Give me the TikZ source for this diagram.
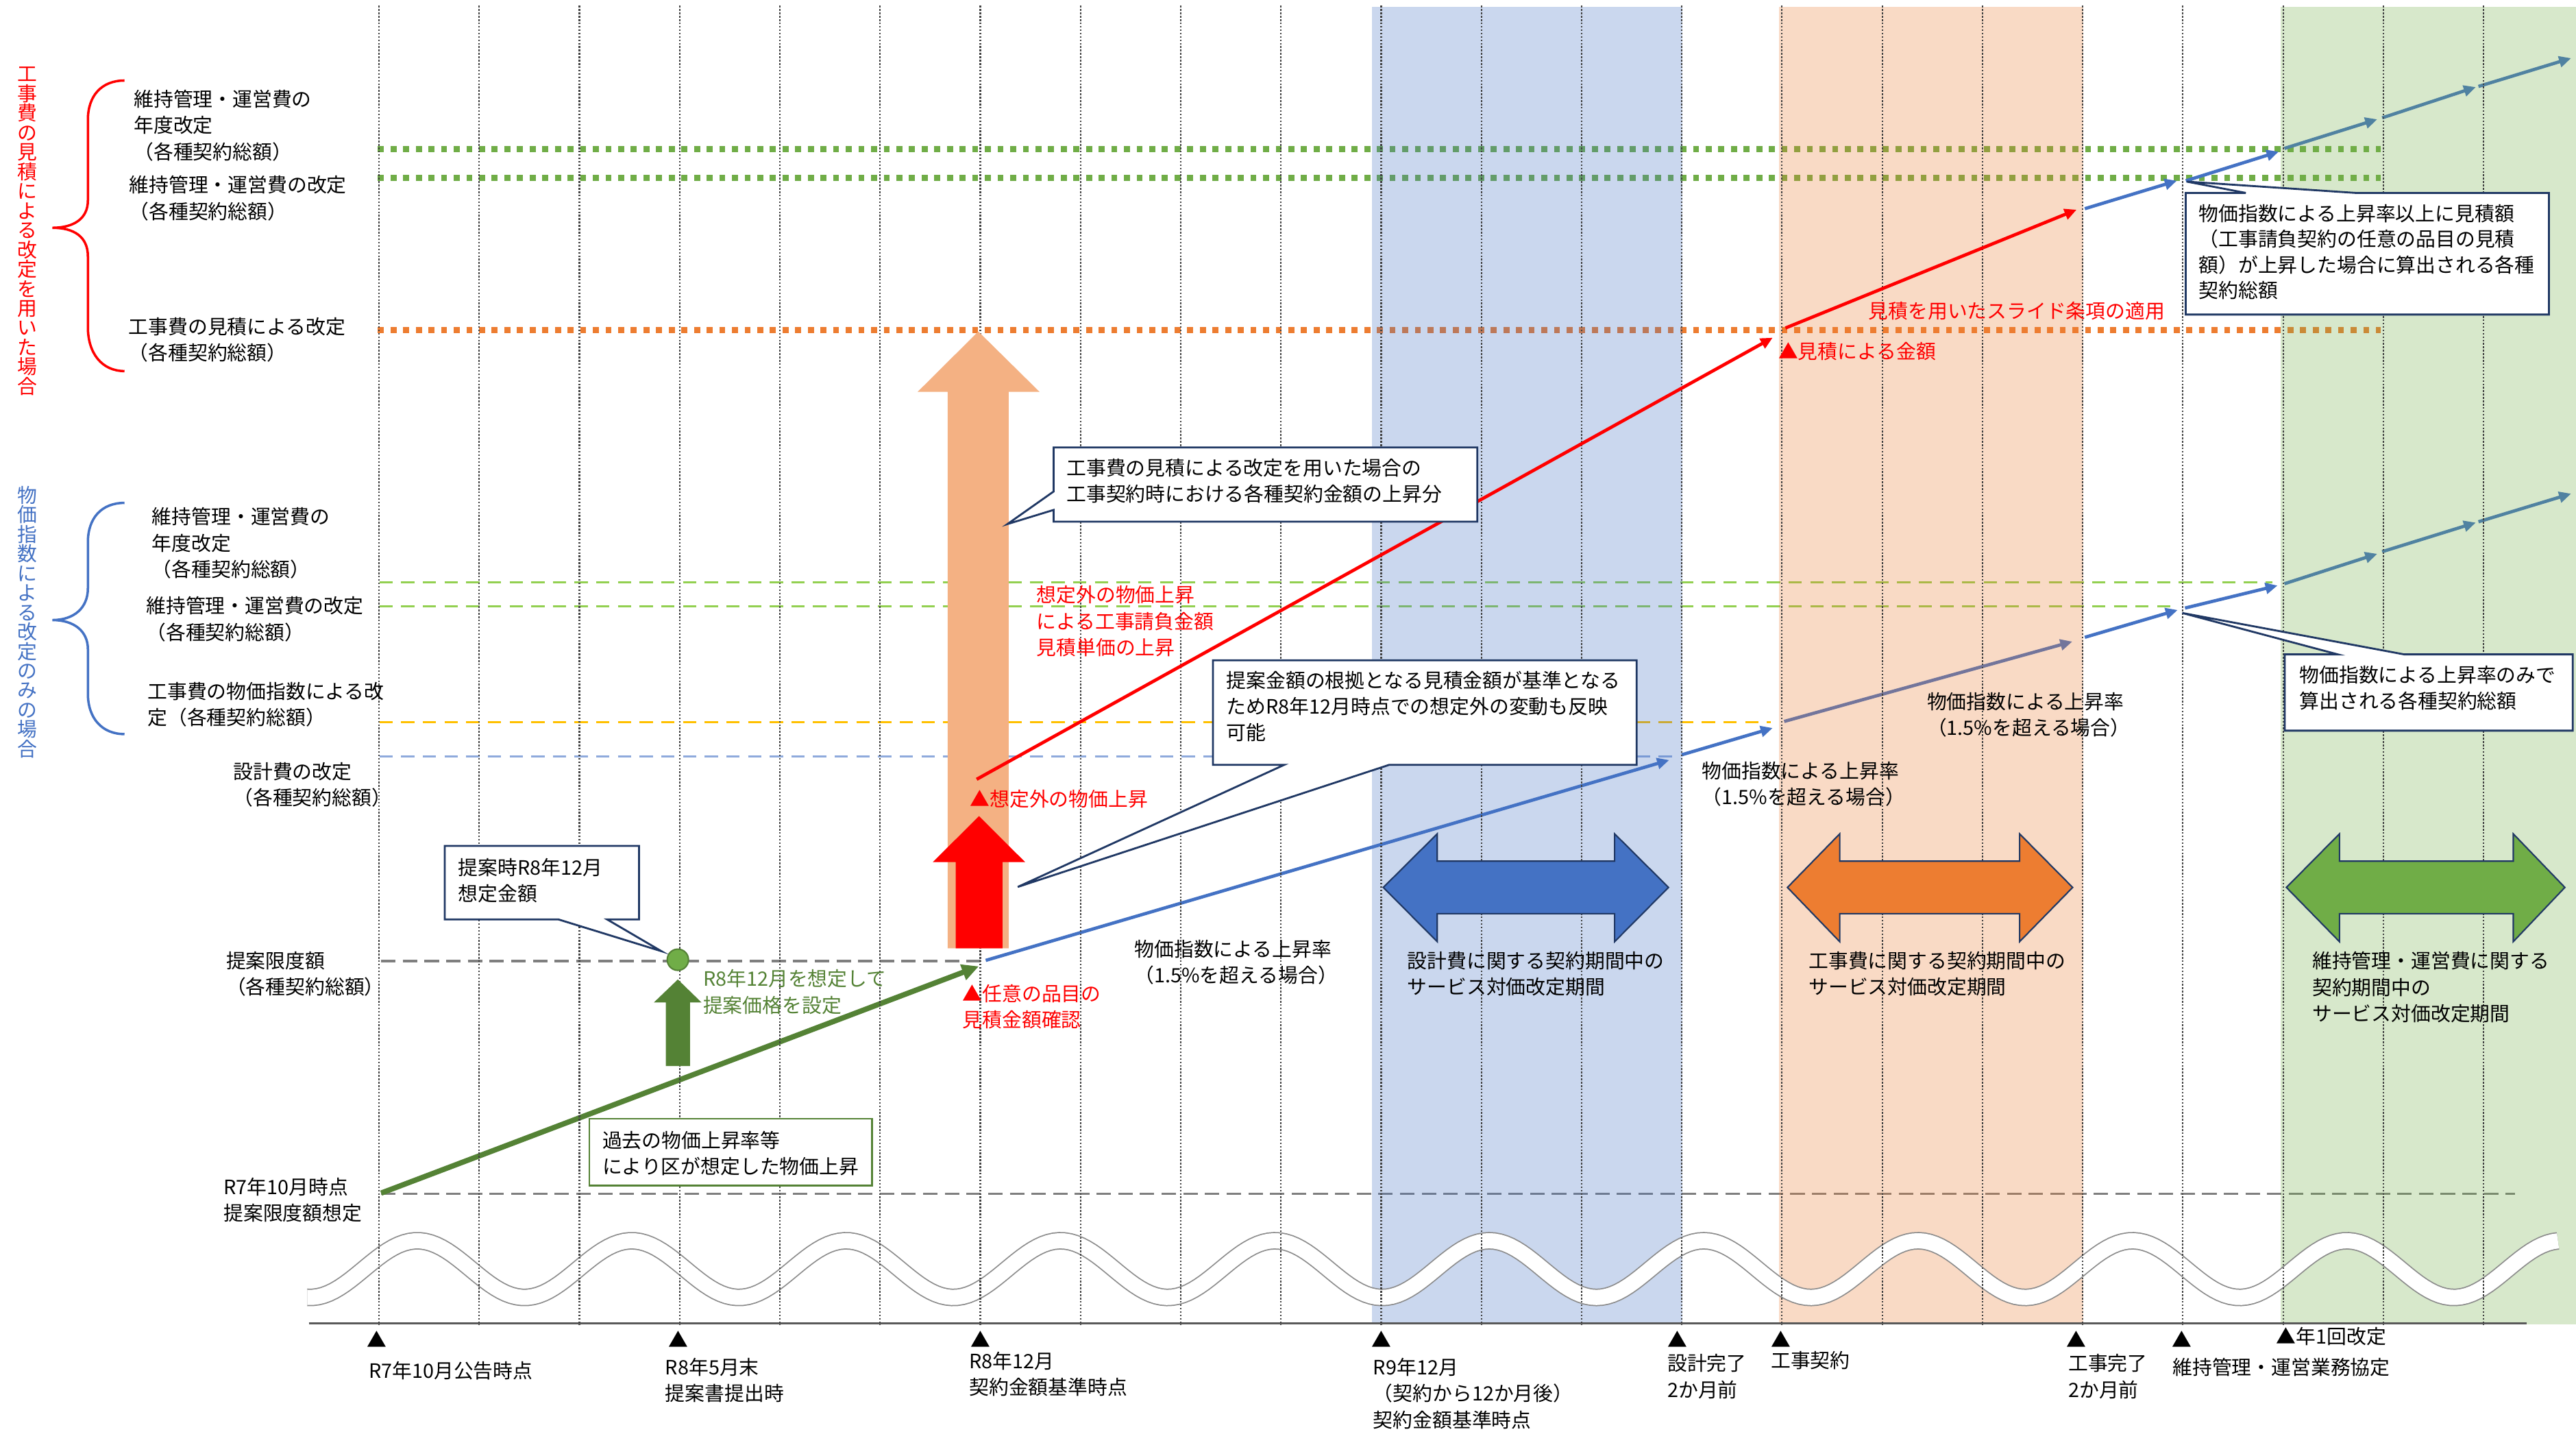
\documentclass[tikz,border=0pt]{standalone}
\usepackage{fontspec}
\setmainfont{Noto Sans CJK JP}
\usetikzlibrary{arrows.meta}
\definecolor{cnavy}{HTML}{203864}
\definecolor{cblue}{HTML}{4472C4}
\definecolor{cgreen}{HTML}{70AD47}
\definecolor{cdkgreen}{HTML}{548235}
\definecolor{corange}{HTML}{ED7D31}
\definecolor{clorange}{HTML}{F4B183}
\definecolor{cgold}{HTML}{FFC000}
\definecolor{cltblue}{HTML}{8FAADC}
\definecolor{cltgreen}{HTML}{92D050}
\definecolor{cgray}{HTML}{7F7F7F}
\definecolor{cred}{HTML}{FF0000}
\definecolor{cgrid}{HTML}{404040}
\newcommand\myfs{\fontsize{8.2}{10.9}\selectfont}
\newcommand\vstk[1]{\vbox{\baselineskip=8.1pt\lineskiplimit=-20pt\lineskip=0pt\vstkloop#1\relax}}
\def\vstkloop#1{\ifx\relax#1\else\hbox{#1}\expandafter\vstkloop\fi}
\begin{document}
\begin{tikzpicture}[x=0.02397cm, y=-0.02397cm,
  every node/.style={inner sep=0pt, outer sep=0pt},
  gridln/.style={draw=cgrid, line width=0.6pt, dash pattern=on 0.7pt off 0.7pt},
  sqdot/.style={line width=2.5pt, dash pattern=on 2.5pt off 2.75pt},
  thindash/.style={line width=0.9pt, dash pattern=on 5.5pt off 3.5pt},
  graydash/.style={draw=cgray, line width=1pt, dash pattern=on 6pt off 3pt},
  trend/.style={line width=1.35pt, -{Triangle[length=5pt,width=4.5pt]}},
  greenline/.style={draw=cdkgreen, line width=2.2pt, -{Triangle[length=7pt,width=6.5pt]}},
  callout/.style={draw=cnavy, fill=white, line width=0.8pt, line join=miter},
  blockarrow/.style={draw=cnavy, line width=0.6pt, line join=miter},
  lbl/.style={anchor=west, align=left, font=\myfs},
  trimark/.style={font=\myfs}
]
\path[use as bounding box] (0,0) rectangle (1568,871);
\fill[white] (0,0) rectangle (1568,871);

% horizontal reference lines
\draw[sqdot, cgreen] (230,90.7) -- (1449,90.7);
\draw[sqdot, cgreen] (230,108.3) -- (1449,108.3);
\draw[sqdot, corange] (230,201) -- (1449,201);
\draw[thindash, cltgreen] (231,354.5) -- (1383,354.5);
\draw[thindash, cltgreen] (231,368.8) -- (1325,368.8);
\draw[thindash, cgold] (231,439.4) -- (1078,439.4);
\draw[thindash, cltblue] (231,460.4) -- (1021,460.4);
\draw[graydash] (232,584.8) -- (597,584.8);
\draw[graydash] (232,726.5) -- (1531,726.5);

% trend coordinates
\coordinate (gS) at (232,726);   \coordinate (gE) at (595.8,588);
\coordinate (rA) at (594.5,474.2); \coordinate (rB) at (1079,205.5);
\coordinate (rC) at (1086.8,199.6); \coordinate (rD) at (1264,127.6);
\coordinate (uA1) at (1269,127);   \coordinate (uA2) at (1325,110);
\coordinate (uB1) at (1330.5,110); \coordinate (uB2) at (1387,92.3);
\coordinate (uC1) at (1390.5,90.3); \coordinate (uC2) at (1447,72.6);
\coordinate (uD1) at (1450,71.7);  \coordinate (uD2) at (1507,53);
\coordinate (uE1) at (1508.6,52.6); \coordinate (uE2) at (1565,35.4);
\coordinate (lA1) at (600,584.4);  \coordinate (lA2) at (1016,462.5);
\coordinate (lB1) at (1023.6,459.3); \coordinate (lB2) at (1079,443);
\coordinate (lC1) at (1086,439);   \coordinate (lC2) at (1261.4,390.4);
\coordinate (lD1) at (1269,387.8); \coordinate (lD2) at (1325.5,371.2);
\coordinate (lE1) at (1330,370);   \coordinate (lE2) at (1386.3,356.3);
\coordinate (lF1) at (1390.5,355.2); \coordinate (lF2) at (1447,337);
\coordinate (lG1) at (1450,335.7); \coordinate (lG2) at (1507,318);
\coordinate (lH1) at (1508.6,317.5); \coordinate (lH2) at (1565,300.4);

% blue chains and green line
\foreach \a/\b in {uA1/uA2,uB1/uB2,uC1/uC2,uD1/uD2,uE1/uE2,lA1/lA2,lB1/lB2,lC1/lC2,lD1/lD2,lE1/lE2,lF1/lF2,lG1/lG2,lH1/lH2}
  \draw[trend, cblue] (\a) -- (\b);
\draw[greenline] (gS) -- (gE);

% bands
\fill[cblue, fill opacity=0.28] (835,4) rectangle (1024,806);
\fill[corange, fill opacity=0.28] (1083,4) rectangle (1268,806);
\fill[cgreen, fill opacity=0.28] (1388,4) rectangle (1568,806);

% wave
\draw[draw=black!45, line width=7.3pt] plot[domain=187:1557, samples=420] (\x,{772.25-17.25*cos(2.75862*(\x-254))});
\draw[draw=white, line width=6.3pt] plot[domain=187:1557, samples=420] (\x,{772.25-17.25*cos(2.75862*(\x-254))});

% axis
\draw[black!65, line width=0.8pt] (188,805.2) -- (1538,805.2);

% grid
\foreach \i in {0,...,21}
  \draw[gridln] ({230.7+61*\i},3.5) -- ({230.7+61*\i},806.5);

% big arrows
\fill[clorange] (576.8,577) -- (576.8,238.4) -- (558.6,238.4) -- (595.5,201.7) -- (632.7,238.4) -- (614,238.4) -- (614,577) -- cycle;
\fill[cred] (581.7,577) -- (581.7,524.6) -- (567.8,524.6) -- (595.9,496.6) -- (624,524.6) -- (610.2,524.6) -- (610.2,577) -- cycle;
\fill[cdkgreen] (405.3,648.7) -- (405.3,610) -- (398,610) -- (412.6,596) -- (427,610) -- (420,610) -- (420,648.7) -- cycle;

\draw[blockarrow, fill=cblue] (842,540) -- (874.8,507.4) -- (874.8,524) -- (982.8,524) -- (982.8,507.4) -- (1015.6,540) -- (982.8,573) -- (982.8,556) -- (874.8,556) -- (874.8,573) -- cycle;
\draw[blockarrow, fill=corange] (1088,540) -- (1119.8,507.4) -- (1119.8,524) -- (1229.3,524) -- (1229.3,507.4) -- (1261.6,540) -- (1229.3,573) -- (1229.3,556) -- (1119.8,556) -- (1119.8,573) -- cycle;
\draw[blockarrow, fill=cgreen] (1391.7,540) -- (1424,507.4) -- (1424,524) -- (1529.8,524) -- (1529.8,507.4) -- (1561.2,540) -- (1529.8,573) -- (1529.8,556) -- (1424,556) -- (1424,573) -- cycle;

% red trend lines
\draw[trend, cred] (rA) -- (rB);
\draw[trend, cred] (rC) -- (rD);

% callouts
\draw[callout] (270.7,514.7) -- (389,514.7) -- (389,559.5) -- (369.6,559.5) -- (402.6,578.8) -- (340,559.5) -- (270.7,559.5) -- cycle;
\draw[callout] (641.3,272.3) -- (899.2,272.3) -- (899.2,317.4) -- (641.3,317.4) -- (641.3,310.3) -- (613.2,318.9) -- (641.3,299.1) -- cycle;
\draw[callout] (738.3,401.8) -- (996.2,401.8) -- (996.2,465.4) -- (845.6,465.4) -- (619.5,539.7) -- (781.7,465.4) -- (738.3,465.4) -- cycle;
\draw[callout] (1330.4,117.4) -- (1367,117.4) -- (1331,110.5) -- (1434,117.4) -- (1551.5,117.4) -- (1551.5,191.4) -- (1330.4,191.4) -- cycle;
\draw[callout] (1390.7,398.2) -- (1423,398.2) -- (1328.3,373) -- (1463.4,398.2) -- (1566,398.2) -- (1566,444.6) -- (1390.7,444.6) -- cycle;
\draw[draw=cdkgreen, fill=white, line width=0.7pt] (358.8,680.8) rectangle (530.8,721.5);
\node[circle, fill=cgreen, draw=cdkgreen, line width=0.6pt, minimum size=0.31cm] (dot) at (412.6,584) {};

% braces
\draw[cred, line width=1pt] (75.8,49) .. controls (62,49) and (53.5,58) .. (53.5,73) -- (53.5,122) .. controls (53.5,133) and (45,138.6) .. (31.9,138.6) .. controls (45,138.6) and (53.5,144) .. (53.5,156) -- (53.5,199) .. controls (53.5,215) and (62,225.8) .. (75.8,225.8);
\draw[cblue, line width=1pt] (75.8,306) .. controls (62,306) and (53.5,315) .. (53.5,330) -- (53.5,358) .. controls (53.5,370) and (45,377.3) .. (31.9,377.3) .. controls (45,377.3) and (53.5,384) .. (53.5,395) -- (53.5,422) .. controls (53.5,437) and (62,446.7) .. (75.8,446.7);

% vertical texts
\node[text=cred, font=\myfs] (vred) at (16.8,140.7) {\vstk{工事費の見積による改定を用いた場合}};
\node[text=cblue, font=\myfs] (vblue) at (16.8,378.5) {\vstk{物価指数による改定のみの場合}};

% left labels
\node[lbl] (t1) at (81.5,76.3) {維持管理・運営費の\\年度改定\\（各種契約総額）};
\node[lbl] (t2) at (78.7,120.6) {維持管理・運営費の改定\\（各種契約総額）};
\node[lbl] (t3) at (78.3,206.9) {工事費の見積による改定\\（各種契約総額）};
\node[lbl] (t4) at (92.6,330.5) {維持管理・運営費の\\年度改定\\（各種契約総額）};
\node[lbl] (t5) at (89,376.7) {維持管理・運営費の改定\\（各種契約総額）};
\node[lbl] (t6) at (89.9,428.7) {工事費の物価指数による改\\定（各種契約総額）};
\node[lbl] (t7) at (142,477.5) {設計費の改定\\（各種契約総額）};
\node[lbl] (t8) at (137.7,592.7) {提案限度額\\（各種契約総額）};
\node[lbl] (t9) at (136.2,730.2) {R7年10月時点\\提案限度額想定};

% bottom markers and labels
\foreach \n/\x in {m1/229.5,m2/413,m3/597,m4/841,m5/1021,m6/1084,m7/1264,m8/1328}
  \node[trimark] (\n) at (\x,815) {▲};
\node[lbl] (b1) at (224.5,834) {R7年10月公告時点};
\node[lbl] (b2) at (405,840) {R8年5月末\\提案書提出時};
\node[lbl] (b3) at (590,836) {R8年12月\\契約金額基準時点};
\node[lbl] (b4) at (835.9,848) {R9年12月\\（契約から12か月後）\\契約金額基準時点};
\node[lbl] (b5) at (1015,837.6) {設計完了\\2か月前};
\node[lbl] (b6) at (1078,828) {工事契約};
\node[lbl] (b7) at (1259,837.6) {工事完了\\2か月前};
\node[lbl] (b8) at (1322.5,832) {維持管理・運営業務協定};
\node[lbl] (b9) at (1385.6,813.4) {▲年1回改定};

% colored annotations
\node[lbl, text=cred] (a1) at (590.5,486) {▲想定外の物価上昇};
\node[lbl, text=cred] (a2) at (631,378) {想定外の物価上昇\\による工事請負金額\\見積単価の上昇};
\node[lbl, text=cred] (a3) at (586,612.5) {▲任意の品目の\\見積金額確認};
\node[lbl, text=cred] (a4) at (1082.5,213.8) {▲見積による金額};
\node[lbl, text=cred] (a5) at (1137.4,189) {見積を用いたスライド条項の適用};
\node[lbl, text=cdkgreen] (a6) at (428,603.6) {R8年12月を想定して\\提案価格を設定};
\node[lbl] (p1) at (690.6,585.6) {物価指数による上昇率\\（1.5\%を超える場合）};
\node[lbl] (p2) at (1036,477) {物価指数による上昇率\\（1.5\%を超える場合）};
\node[lbl] (p3) at (1173,435) {物価指数による上昇率\\（1.5\%を超える場合）};

% callout texts
\node[lbl] (c1) at (279,535.8) {提案時R8年12月\\想定金額};
\node[lbl] (c2) at (649.2,292.8) {工事費の見積による改定を用いた場合の\\工事契約時における各種契約金額の上昇分};
\node[lbl] (c3) at (746.6,429.8) {提案金額の根拠となる見積金額が基準となる\\ためR8年12月時点での想定外の変動も反映\\可能};
\node[lbl, font=\fontsize{8.2}{10.57}\selectfont] (c4) at (1338.4,153.3) {物価指数による上昇率以上に見積額\\（工事請負契約の任意の品目の見積\\額）が上昇した場合に算出される各種\\契約総額};
\node[lbl] (c5) at (1399.7,418.5) {物価指数による上昇率のみで\\算出される各種契約総額};
\node[lbl] (gbox) at (366.7,701.8) {過去の物価上昇率等\\により区が想定した物価上昇};

% period labels
\node[lbl] (d1) at (856.7,592.7) {設計費に関する契約期間中の\\サービス対価改定期間};
\node[lbl] (d2) at (1101,592.7) {工事費に関する契約期間中の\\サービス対価改定期間};
\node[lbl] (d3) at (1407.5,600.7) {維持管理・運営費に関する\\契約期間中の\\サービス対価改定期間};
\end{tikzpicture}
\end{document}
